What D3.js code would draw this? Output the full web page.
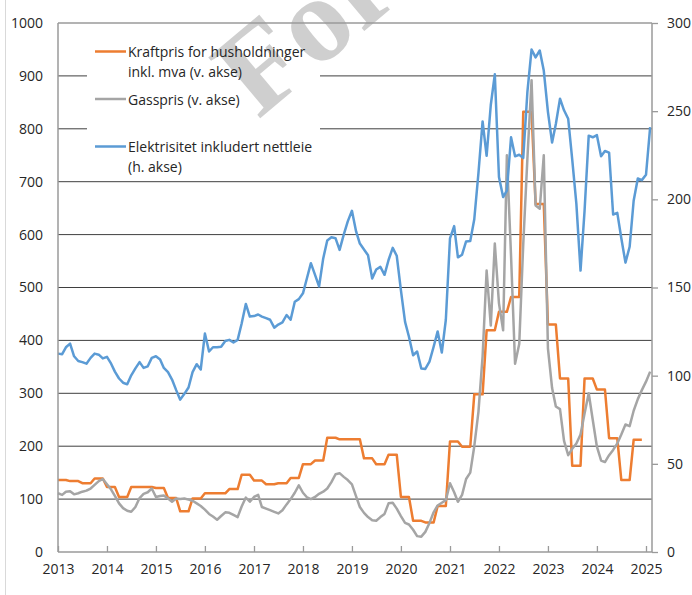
<!DOCTYPE html>
<html>
<head>
<meta charset="utf-8">
<script src="https://cdn.jsdelivr.net/npm/d3@7"></script>
<style>
  body { margin: 0; background: #fff; }
  svg { display: block; font-family: "Open Sans", sans-serif; }
</style>
</head>
<body>
<div id="chart"></div>
<script>
// x axis years
const yearTicks = [2013, 2014, 2015, 2016, 2017, 2018, 2019, 2020, 2021, 2022, 2023, 2024, 2025];
const leftTicks = [0, 100, 200, 300, 400, 500, 600, 700, 800, 900, 1000];
const rightTicks = [0, 50, 100, 150, 200, 250, 300];

// Kraftpris for husholdninger, quarterly, Q1 2013 - Q4 2024 (v. akse)
const householdPrice = [
  136, 134, 130, 139,
  123, 104, 123, 123,
  121, 102, 77, 101,
  111, 111, 119, 146,
  135, 128, 130, 140,
  166, 173, 216, 213,
  213, 177, 166, 184,
  104, 59, 56, 87,
  209, 199, 298, 419,
  454, 482, 832, 658,
  430, 328, 163, 328,
  307, 215, 136, 212
];

// Gasspris, monthly, Jan 2013 - Feb 2025 (v. akse)
const gasPrice = [
  111, 108, 114, 115, 109, 111, 114, 116, 120, 127, 134, 138,
  128, 118, 106, 92, 83, 78, 76, 85, 102, 110, 113, 120,
  104, 106, 107, 101, 95, 101, 100, 101, 99, 97, 92, 87,
  80, 72, 67, 61, 68, 75, 74, 70, 66, 86, 103, 95,
  104, 108, 85, 82, 79, 76, 73, 79, 90, 100, 112, 126,
  112, 103, 100, 104, 110, 114, 120, 132, 147, 149, 142, 136,
  128, 105, 85, 74, 66, 60, 59, 66, 72, 92, 93, 82,
  68, 55, 52, 42, 30, 29, 38, 55, 75, 88, 93, 98,
  130, 113, 95, 108, 138, 150, 200, 265, 370, 532, 428, 583,
  470, 419, 750, 560, 356, 393, 582, 744, 892, 655, 649, 750,
  385, 310, 275, 270, 210, 183, 195, 205, 222, 262, 300, 250,
  199, 173, 170, 183, 193, 205, 222, 241, 238, 267, 289, 306,
  322, 341
];

// Elektrisitet inkludert nettleie, monthly, Jan 2013 - Feb 2025 (h. akse)
const electricity = [
  112.5, 112.2, 116.1, 118.2, 111.0, 108.3, 107.7, 106.8, 110.1, 112.5, 111.9, 109.8,
  110.7, 106.8, 102.3, 98.4, 96.0, 95.1, 100.2, 104.1, 107.7, 104.4, 105.3, 110.1,
  111.0, 109.2, 104.4, 102.0, 97.8, 91.8, 86.4, 89.7, 93.3, 102.0, 106.5, 103.5,
  123.9, 113.7, 116.1, 116.1, 116.4, 119.7, 120.3, 118.8, 120.3, 129.6, 140.7, 133.5,
  133.8, 134.7, 133.5, 132.6, 131.7, 127.2, 129.0, 130.2, 134.4, 131.7, 141.9, 143.4,
  146.7, 155.7, 163.8, 157.2, 150.6, 166.5, 176.7, 178.5, 177.9, 171.3, 180.0, 187.5,
  193.5, 181.8, 174.9, 171.6, 168.3, 155.1, 160.2, 161.7, 157.2, 165.6, 172.5, 168.0,
  148.5, 130.5, 122.1, 111.6, 113.7, 104.1, 103.8, 108.0, 116.4, 125.1, 113.1, 131.7,
  177.9, 184.8, 167.1, 168.6, 176.1, 176.4, 188.7, 214.8, 244.2, 224.7, 253.5, 270.9,
  212.7, 201.3, 204.9, 235.2, 224.4, 225.3, 223.5, 261.0, 285.0, 280.5, 284.4, 273.0,
  249.6, 232.2, 242.7, 257.1, 250.5, 245.7, 222.6, 197.4, 159.6, 193.5, 236.1, 235.2,
  236.4, 224.4, 227.4, 226.5, 191.4, 192.3, 177.9, 164.1, 173.1, 199.2, 211.8, 210.9,
  213.9, 240.9
];

const seriesNames = [
  ["Kraftpris for husholdninger", "inkl. mva (v. akse)"],
  ["Gasspris (v. akse)"],
  ["Elektrisitet inkludert nettleie", "(h. akse)"]
];
const seriesColors = ["#ed7d31", "#a5a5a5", "#5b9bd5"];

const width = 692, height = 595;
const plot = { left: 58, right: 652, top: 23, bottom: 552 };

const svg = d3.select("#chart").append("svg")
  .attr("width", width)
  .attr("height", height);

svg.append("rect").attr("width", width).attr("height", height).attr("fill", "#fff");

// thin frame line at the far left
svg.append("line")
  .attr("x1", 5.5).attr("x2", 5.5).attr("y1", 0).attr("y2", height)
  .attr("stroke", "#d9d9d9").attr("stroke-width", 1);

const x = d3.scaleTime()
  .domain([new Date(2013, 0, 1), new Date(2025, 0, 1)])
  .range([plot.left, 646]);

const yLeft = d3.scaleLinear().domain([0, 1000]).range([plot.bottom, plot.top]);
const yRight = d3.scaleLinear().domain([0, 300]).range([plot.bottom, plot.top]);

const monthDate = i => new Date(2013, i, 1);

const householdData = householdPrice.flatMap((v, q) =>
  [0, 1, 2].map(k => ({ date: monthDate(q * 3 + k), value: v })));
const gasData = gasPrice.map((v, i) => ({ date: monthDate(i), value: v }));
const elData = electricity.map((v, i) => ({ date: monthDate(i), value: v }));

// gridlines
svg.append("g")
  .selectAll("line")
  .data(leftTicks.filter(d => d > 0 && d < 1000))
  .enter()
  .append("line")
  .attr("x1", plot.left)
  .attr("x2", plot.right)
  .attr("y1", d => yLeft(d))
  .attr("y2", d => yLeft(d))
  .attr("stroke", "#3f3f3f")
  .attr("stroke-width", 1);

// legend background
svg.append("rect")
  .attr("x", 87).attr("y", 32)
  .attr("width", 233).attr("height", 144)
  .attr("fill", "#fff");

// watermark (cut by the top edge, as in the original)
svg.append("text")
  .attr("transform", "translate(258,120) rotate(-40)")
  .attr("font-family", "Liberation Serif, serif")
  .attr("font-weight", "bold")
  .attr("font-size", 122)
  .attr("fill", "#a0a0a0")
  .attr("fill-opacity", 0.5)
  .text("Foreløpig");

const lineLeft = d3.line().x(d => x(d.date)).y(d => yLeft(d.value));
const lineRight = d3.line().x(d => x(d.date)).y(d => yRight(d.value));

svg.append("path").datum(householdData)
  .attr("d", lineLeft).attr("fill", "none")
  .attr("stroke", seriesColors[0]).attr("stroke-width", 2.5)
  .attr("stroke-linejoin", "round");

svg.append("path").datum(gasData)
  .attr("d", lineLeft).attr("fill", "none")
  .attr("stroke", seriesColors[1]).attr("stroke-width", 2.5)
  .attr("stroke-linejoin", "round");

svg.append("path").datum(elData)
  .attr("d", lineRight).attr("fill", "none")
  .attr("stroke", seriesColors[2]).attr("stroke-width", 2.5)
  .attr("stroke-linejoin", "round");

// axes frame
const axisColor = "#9a9a9a";
svg.append("line")
  .attr("x1", plot.left).attr("x2", plot.right)
  .attr("y1", plot.top).attr("y2", plot.top)
  .attr("stroke", axisColor).attr("stroke-width", 1.5);

const textColor = "#262626";

svg.append("g")
  .attr("transform", `translate(0,${plot.bottom})`)
  .call(d3.axisBottom(x)
    .tickValues(yearTicks.map(y => new Date(y, 0, 1)))
    .tickFormat(d3.timeFormat("%Y"))
    .tickSize(-6)
    .tickPadding(12))
  .call(g => g.select(".domain").remove())
  .call(g => g.selectAll(".tick line").attr("stroke", axisColor).attr("stroke-width", 1.3))
  .call(g => g.selectAll("text")
    .attr("font-family", "Open Sans, sans-serif")
    .attr("font-size", 14)
    .attr("fill", textColor));

svg.append("line")
  .attr("x1", plot.left).attr("x2", plot.right)
  .attr("y1", plot.bottom).attr("y2", plot.bottom)
  .attr("stroke", axisColor).attr("stroke-width", 1.5);

svg.append("g")
  .attr("transform", `translate(${plot.left},0)`)
  .call(d3.axisLeft(yLeft).tickValues(leftTicks).tickFormat(d3.format("d")).tickSize(0).tickPadding(15))
  .call(g => g.select(".domain").remove())
  .call(g => g.selectAll("text")
    .attr("font-family", "Open Sans, sans-serif")
    .attr("font-size", 14)
    .attr("fill", textColor));

svg.append("line")
  .attr("x1", plot.left).attr("x2", plot.left)
  .attr("y1", plot.top).attr("y2", plot.bottom)
  .attr("stroke", axisColor).attr("stroke-width", 1.5);

svg.append("g")
  .attr("transform", `translate(${plot.right},0)`)
  .call(d3.axisRight(yRight).tickValues(rightTicks).tickFormat(d3.format("d")).tickSize(6).tickPadding(9))
  .call(g => g.select(".domain")
    .attr("d", `M0,${plot.top}V${plot.bottom}`)
    .attr("stroke", axisColor).attr("stroke-width", 1.5))
  .call(g => g.selectAll(".tick line").attr("stroke", axisColor).attr("stroke-width", 1.3))
  .call(g => g.selectAll("text")
    .attr("font-family", "Open Sans, sans-serif")
    .attr("font-size", 14)
    .attr("fill", textColor));

// legend
const legendY = [51.5, 99, 146.5];
const legend = svg.append("g");
seriesNames.forEach((lines, i) => {
  legend.append("line")
    .attr("x1", 95).attr("x2", 126)
    .attr("y1", legendY[i]).attr("y2", legendY[i])
    .attr("stroke", seriesColors[i]).attr("stroke-width", 2.5);
  lines.forEach((t, j) => {
    legend.append("text")
      .attr("x", 128)
      .attr("y", legendY[i] + 5.5 + j * 20)
      .attr("font-size", 14)
      .attr("fill", textColor)
      .text(t);
  });
});
</script>
</body>
</html>
